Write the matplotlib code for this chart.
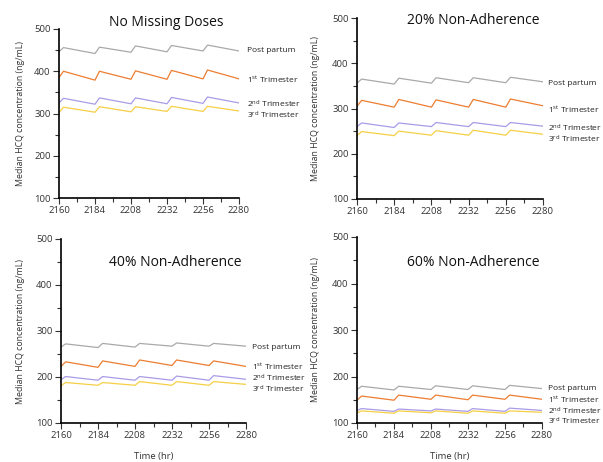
import matplotlib
matplotlib.use("Agg")
import matplotlib.pyplot as plt

plt.rcParams['font.family'] = ['Open Sans', 'DejaVu Sans']
plt.rcParams['mathtext.fontset'] = 'custom'
plt.rcParams['mathtext.rm'] = 'Open Sans'
plt.rcParams['mathtext.it'] = 'Open Sans'

# ---- data ----
time_hr = [2160, 2163, 2184, 2187, 2208, 2211, 2232, 2235, 2256, 2259, 2280]
series_names = ["Post partum", "1$^{\\mathrm{st}}$ Trimester",
                "2$^{\\mathrm{nd}}$ Trimester", "3$^{\\mathrm{rd}}$ Trimester"]
panel_titles = ["No Missing Doses", "20% Non-Adherence", "40% Non-Adherence", "60% Non-Adherence"]

nomiss_post = [446, 456, 442, 457, 445, 460, 446, 461, 448, 462, 448]
nomiss_t1   = [385, 400, 379, 400, 381, 401, 381, 402, 382, 403, 382]
nomiss_t2   = [325, 336, 322, 337, 323, 337, 323, 338, 324, 339, 325]
nomiss_t3   = [302, 315, 303, 316, 304, 316, 305, 317, 305, 317, 306]

na20_post = [356, 365, 354, 367, 356, 368, 357, 368, 357, 369, 359]
na20_t1   = [305, 318, 303, 320, 303, 319, 303, 320, 303, 321, 306]
na20_t2   = [260, 268, 258, 268, 260, 269, 260, 269, 260, 269, 261]
na20_t3   = [240, 249, 240, 250, 241, 251, 241, 252, 241, 252, 243]

na40_post = [265, 272, 264, 273, 265, 273, 267, 274, 267, 273, 267]
na40_t1   = [223, 233, 221, 235, 223, 237, 225, 237, 225, 235, 223]
na40_t2   = [194, 201, 193, 201, 193, 201, 193, 202, 193, 203, 195]
na40_t3   = [181, 188, 182, 188, 182, 190, 182, 190, 182, 190, 184]

na60_post = [172, 179, 171, 179, 172, 180, 172, 180, 172, 181, 174]
na60_t1   = [149, 158, 149, 160, 151, 160, 150, 160, 151, 160, 151]
na60_t2   = [127, 131, 125, 130, 126, 130, 125, 131, 125, 132, 127]
na60_t3   = [122, 126, 121, 126, 122, 126, 121, 126, 121, 126, 123]

panels_data = [
    [nomiss_post, nomiss_t1, nomiss_t2, nomiss_t3],
    [na20_post, na20_t1, na20_t2, na20_t3],
    [na40_post, na40_t1, na40_t2, na40_t3],
    [na60_post, na60_t1, na60_t2, na60_t3],
]
x_ticks = [2160, 2184, 2208, 2232, 2256, 2280]
y_ticks = [100, 200, 300, 400, 500]

# ---- layout / style ----
colors = ["#a9a9a9", "#ed7d31", "#a99be6", "#f5cf45"]
W, H = 603, 462
boxes = [  # left, top, right, bottom in pixels
    (59, 29, 239, 198),
    (357, 18, 543, 199),
    (61, 239, 246, 423),
    (357, 237, 542, 423),
]
ylabel_px = [20, 316, 20, 316]
title_pos = [(166, 22), (473, 21), (175, 262), (473, 262)]
label_x = [1.044, 1.027, 1.032, 1.032]
label_y = [
    [450, 379, 322, 296],
    [355, 298, 256, 231],
    [265, 221, 196, 173],
    [174, 149, 126, 103],
]

fig = plt.figure(figsize=(W / 100, H / 100), dpi=100)
for i, (l, t, r, b) in enumerate(boxes):
    ax = fig.add_axes([l / W, 1 - b / H, (r - l) / W, (b - t) / H])
    for j, vals in enumerate(panels_data[i]):
        ax.plot(time_hr, vals, color=colors[j], lw=0.9)
        ax.text(label_x[i], label_y[i][j], series_names[j], transform=ax.get_yaxis_transform(),
                fontsize=6.0, va='center', ha='left', color='#222222')
    ax.set_xlim(2160, 2280)
    ax.set_ylim(100, 500)
    ax.set_xticks(x_ticks)
    ax.set_yticks(y_ticks)
    ax.set_xticks([2172, 2196, 2220, 2244, 2268], minor=True)
    ax.set_yticks([150, 250, 350, 450], minor=True)
    ax.tick_params(axis='both', which='major', labelsize=6.8, length=4, width=0.8,
                   colors='#333333', pad=2)
    ax.tick_params(axis='both', which='minor', length=3, width=0.8, color='#333333')
    for s in ['top', 'right']:
        ax.spines[s].set_visible(False)
    for s in ['left', 'bottom']:
        ax.spines[s].set_linewidth(1.2)
        ax.spines[s].set_color('black')
    ax.set_ylabel("Median HCQ concentration (ng/mL)", fontsize=6.3, color='#333333',
                  va='center')
    ax.yaxis.set_label_coords(-(l - ylabel_px[i]) / (r - l), 0.5)
    if i >= 2:
        ax.set_xlabel("Time (hr)", fontsize=6.8, color='#333333', va='center')
        ax.xaxis.set_label_coords(0.5, -(456 - b) / (b - t))
    fig.text(title_pos[i][0] / W, 1 - title_pos[i][1] / H, panel_titles[i],
             fontsize=10, ha='center', va='center', color='#111111')

fig.savefig("out.png", dpi=100)
